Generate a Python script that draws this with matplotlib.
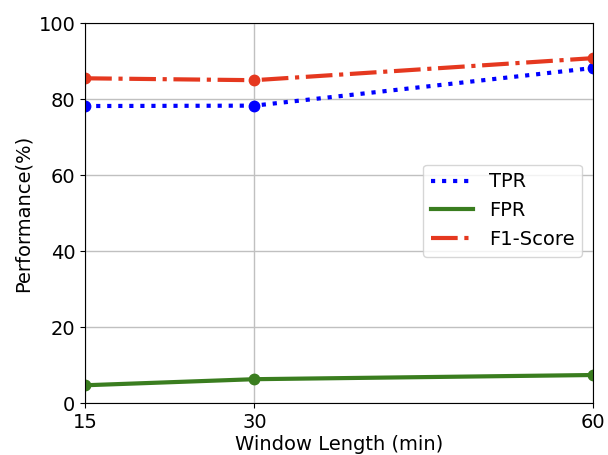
import matplotlib.pyplot as plt

# dados
janelas = [15, 30, 60]
tpr = [78.2, 78.3, 88.2]
fpr = [4.7, 6.3, 7.4]
f1 = [85.5, 85.0, 90.8]

azul = '#0000ff'
verde = '#3a7d1f'
vermelho = '#e5381f'

fig = plt.figure(figsize=(6.08, 4.55), dpi=100)
ax = fig.add_axes([0.14, 0.114, 0.835, 0.835])

ax.plot(janelas, tpr, color=azul, linestyle=':', linewidth=3, label='TPR')
ax.plot(janelas, fpr, color=verde, linestyle='-', linewidth=3, label='FPR')
ax.plot(janelas, f1, color=vermelho, linestyle='-.', linewidth=3, label='F1-Score')

ax.plot(janelas, tpr, 'o', color=azul, markersize=7.5)
ax.plot(janelas, fpr, 'o', color=verde, markersize=7.5)
ax.plot(janelas, f1, 'o', color=vermelho, markersize=7.5)

ax.set_xlim(15, 60)
ax.set_ylim(0, 100)
ax.set_xticks(janelas)
ax.set_yticks([0, 20, 40, 60, 80, 100])
ax.tick_params(labelsize=14)
ax.grid(True, color='#c0c0c0', linewidth=1)
ax.set_axisbelow(True)

ax.set_xlabel('Window Length (min)', fontsize=14, labelpad=2)
ax.set_ylabel('Performance(%)', fontsize=14)
ax.legend(loc='upper left', bbox_to_anchor=(0.665, 0.628), borderaxespad=0,
          fontsize=14, handlelength=2.2)

fig.savefig('out.png', dpi=100)
